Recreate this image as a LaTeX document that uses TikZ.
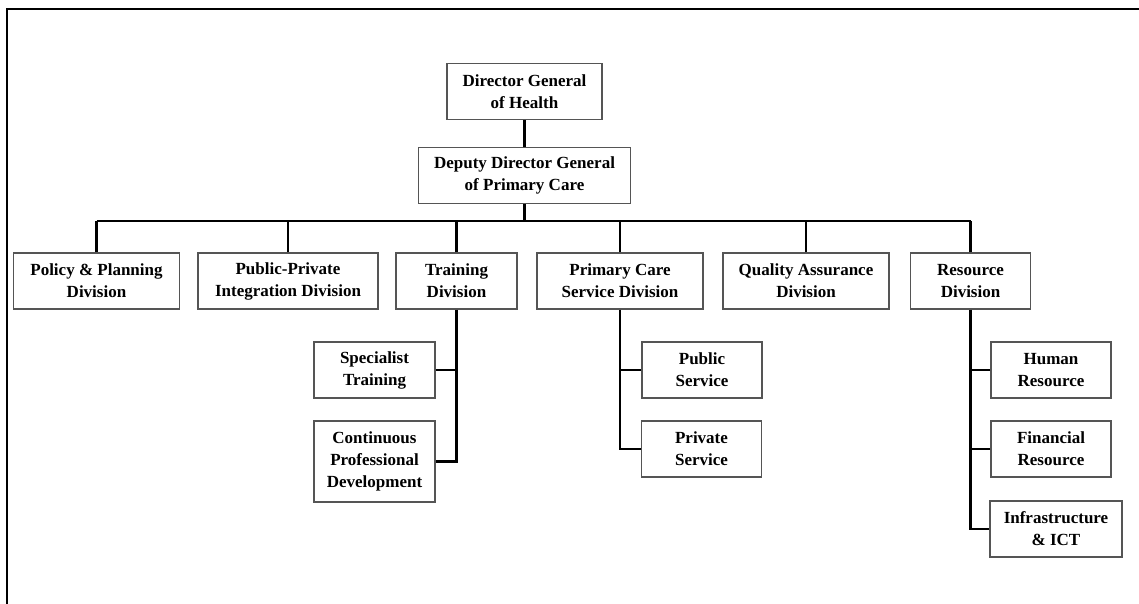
\documentclass[tikz,border=0pt]{standalone}
\usepackage{fontspec}
\setmainfont{Liberation Serif}
\usepackage{tikz}
\usetikzlibrary{positioning, calc}
\definecolor{boxline}{RGB}{85,85,85}

\begin{document}
\begin{tikzpicture}[
    x=1pt, y=-1pt,
    unit/.style={draw=boxline, line width=1.1pt, fill=white, inner sep=0pt, align=center,
        minimum height=56pt, font=\fontsize{17}{22}\selectfont\bfseries},
    link/.style={line width=2.2pt, black}
]
    \useasboundingbox (0,0) rectangle (1139,604);
    % Frame
    \draw[line width=2.4pt] (7,604) -- (7,9) -- (1139,9);

    % Top
    \node[unit, minimum width=155pt] (dg) at (524.5,91.5) {Director General\\of Health};
    \node[unit, minimum width=212pt] (ddg) at (524.5,175.5) {Deputy Director General\\of Primary Care};

    % Divisions
    \node[unit, minimum width=166pt] (policy) at (96.5,281) {Policy \& Planning\\Division};
    \node[unit, minimum width=180pt] (ppi) at (288,281) {Public-Private\\Integration Division};
    \node[unit, minimum width=121pt] (training) at (456.5,281) {Training\\Division};
    \node[unit, minimum width=166pt] (pcs) at (620,281) {Primary Care\\Service Division};
    \node[unit, minimum width=166pt] (qa) at (806,281) {Quality Assurance\\Division};
    \node[unit, minimum width=120pt] (resource) at (970.5,281) {Resource\\Division};

    % Sub units
    \node[unit, minimum width=121pt] (specialist) at (374.5,370) {Specialist\\Training};
    \node[unit, minimum width=121pt, minimum height=81pt] (cpd) at (374.5,461.5) {Continuous\\Professional\\Development};
    \node[unit, minimum width=120pt] (public) at (702,370) {Public\\Service};
    \node[unit, minimum width=120pt] (private) at (701.5,449) {Private\\Service};
    \node[unit, minimum width=120pt] (human) at (1051,370) {Human\\Resource};
    \node[unit, minimum width=120pt] (financial) at (1051,449) {Financial\\Resource};
    \node[unit, minimum width=132pt] (infra) at (1056,529) {Infrastructure\\\& ICT};

    % Bus
    \coordinate (bus) at (524.5,221);
    \draw[link] (dg) -- (ddg);
    \draw[link] (ddg) -- (bus);
    \draw[link] (policy.north |- bus) -- (resource.north |- bus);
    \foreach \d in {policy, ppi, training, pcs, qa, resource}
        \draw[link] (\d.north) -- (\d.north |- bus);

    % Training branch
    \draw[link] (training.south) -- (training.south |- cpd.east) -- (cpd.east);
    \draw[link] (specialist.east) -- (training.south |- specialist.east);

    % Primary care branch
    \draw[link] (pcs.south) -- (pcs.south |- private.west) -- (private.west);
    \draw[link] (public.west) -- (pcs.south |- public.west);

    % Resource branch
    \draw[link] (resource.south) -- (resource.south |- infra.west) -- (infra.west);
    \draw[link] (human.west) -- (resource.south |- human.west);
    \draw[link] (financial.west) -- (resource.south |- financial.west);
\end{tikzpicture}
\end{document}
